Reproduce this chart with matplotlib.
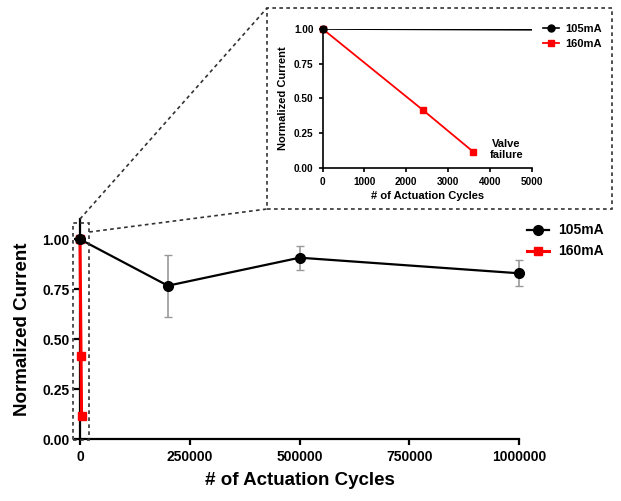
import matplotlib
matplotlib.use("Agg")
import matplotlib.pyplot as plt
from matplotlib.lines import Line2D
from matplotlib.patches import Rectangle

plt.rcParams["font.family"] = ["Liberation Sans", "DejaVu Sans"]
plt.rcParams["font.weight"] = "bold"

# 105 mA series (mean +/- error)
cycles_105 = [0, 200000, 500000, 1000000]
current_105 = [1.00, 0.768, 0.908, 0.830]
err_105 = [0.0, 0.156, 0.059, 0.065]

# 160 mA series
cycles_160 = [0, 2400, 3600]
current_160 = [1.00, 0.415, 0.115]

main_xticks = [0, 250000, 500000, 750000, 1000000]
main_yticks = [0.00, 0.25, 0.50, 0.75, 1.00]
inset_xticks = [0, 1000, 2000, 3000, 4000, 5000]

W, H = 621, 501
fig = plt.figure(figsize=(W / 100, H / 100), dpi=100)


def fx(px):
    return px / W


def fy(py):
    return 1 - py / H


def style_axis(ax, lw, tick_len, size):
    for side in ["top", "right"]:
        ax.spines[side].set_visible(False)
    for side in ["left", "bottom"]:
        ax.spines[side].set_linewidth(lw)
    ax.tick_params(width=lw, length=tick_len, labelsize=size, direction="out")
    for lab in ax.get_xticklabels() + ax.get_yticklabels():
        lab.set_fontweight("bold")


# main axes
ax = fig.add_axes([fx(80), fy(439.3), fx(519.3) - fx(80), fy(219.3) - fy(439.3)])
ax.plot(cycles_160, current_160, color="red", lw=2.2, marker="s", ms=6,
        clip_on=False, zorder=3, label="160mA")
ax.errorbar(cycles_105, current_105, yerr=err_105, color="black", lw=1.6,
            marker="o", ms=7, ecolor="#999999", elinewidth=1.2, capsize=3,
            capthick=1, clip_on=False, zorder=4, label="105mA")
ax.set_xlim(0, 1000000)
ax.set_ylim(0, 1.1)
ax.set_xticks(main_xticks)
ax.set_xticklabels([str(t) for t in main_xticks])
ax.set_yticks(main_yticks)
ax.set_yticklabels([f"{t:.2f}" for t in main_yticks])
ax.set_xlabel("# of Actuation Cycles", fontsize=13.5, fontweight="bold", labelpad=6)
ax.set_ylabel("Normalized Current", fontsize=13.5, fontweight="bold", labelpad=8)
style_axis(ax, 1.6, 4, 10)

h105 = Line2D([], [], color="black", lw=1.6, marker="o", ms=7)
h160 = Line2D([], [], color="red", lw=2.2, marker="s", ms=6)
fig.legend([h105, h160], ["105mA", "160mA"], loc="upper left",
           bbox_to_anchor=(fx(514), fy(211)), frameon=False, handlelength=1.6,
           handletextpad=0.7, labelspacing=0.5, prop={"size": 10, "weight": "bold"})

# inset axes
ins = fig.add_axes([fx(322.7), fy(167.7), fx(531.7) - fx(322.7), fy(29) - fy(167.7)])
ins.plot(cycles_105, current_105, color="black", lw=1.2, zorder=4)
ins.plot(cycles_105[:1], current_105[:1], color="black", marker="o", ms=5,
         clip_on=False, zorder=5)
ins.plot(cycles_160, current_160, color="red", lw=1.3, marker="s", ms=4.5,
         clip_on=False, zorder=3)
ins.set_xlim(0, 5000)
ins.set_ylim(0, 1.0)
ins.set_xticks(inset_xticks)
ins.set_xticklabels([str(t) for t in inset_xticks])
ins.set_yticks(main_yticks)
ins.set_yticklabels([f"{t:.2f}" for t in main_yticks])
ins.set_xlabel("# of Actuation Cycles", fontsize=8, fontweight="bold", labelpad=3)
ins.set_ylabel("Normalized Current", fontsize=8, fontweight="bold", labelpad=4)
style_axis(ins, 1.2, 3, 7.2)
ins.text(4400, 0.13, "Valve\nfailure", ha="center", va="center", fontsize=8,
         fontweight="bold", linespacing=1.1)

i105 = Line2D([], [], color="black", lw=1.2, marker="o", ms=5)
i160 = Line2D([], [], color="red", lw=1.3, marker="s", ms=4.5)
fig.legend([i105, i160], ["105mA", "160mA"], loc="upper left",
           bbox_to_anchor=(fx(533), fy(14)), frameon=False, handlelength=1.4,
           handletextpad=0.6, labelspacing=0.45, prop={"size": 8, "weight": "bold"})

# zoom indicator boxes and connectors
dash = (0, (2.2, 2.0))
fig.add_artist(Rectangle((fx(73), fy(439.5)), fx(89.3) - fx(73), fy(223.3) - fy(439.5),
                         transform=fig.transFigure, fill=False, ec="#333333",
                         lw=1.2, ls=dash))
fig.add_artist(Rectangle((fx(267), fy(209)), fx(612) - fx(267), fy(8) - fy(209),
                         transform=fig.transFigure, fill=False, ec="#333333",
                         lw=1.2, ls=dash))
fig.add_artist(Line2D([fx(80), fx(267)], [fy(219), fy(8)], transform=fig.transFigure,
                      color="#333333", lw=1.2, ls=dash))
fig.add_artist(Line2D([fx(89.3), fx(267)], [fy(232), fy(209)], transform=fig.transFigure,
                      color="#333333", lw=1.2, ls=dash))

fig.savefig("out.png", dpi=100, facecolor="white")
